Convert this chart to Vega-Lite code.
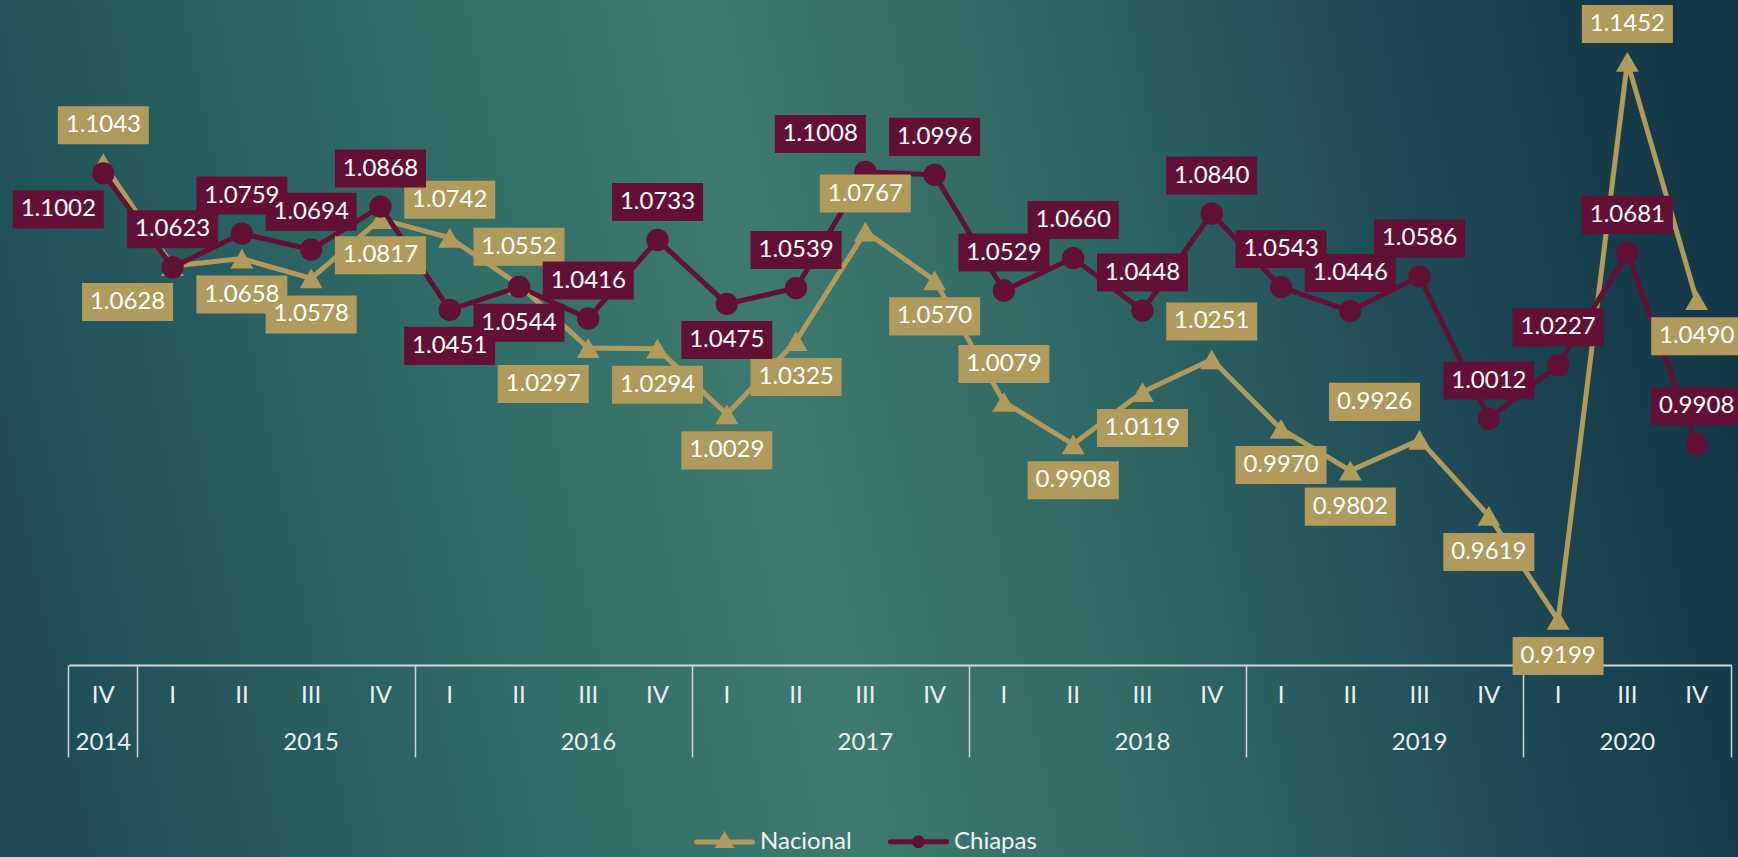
{
  "$schema": "https://vega.github.io/schema/vega-lite/v6.json",
  "width": 1738,
  "height": 857,
  "padding": 0,
  "autosize": {"type": "none"},
  "background": "#255a5e",
  "data": {
    "values": [
      {"periodo": "2014 IV", "serie": "Nacional", "valor": 1.1043, "vert": "arriba", "horiz": "centro"},
      {"periodo": "2015 I", "serie": "Nacional", "valor": 1.0628, "vert": "abajo", "horiz": "izq"},
      {"periodo": "2015 II", "serie": "Nacional", "valor": 1.0658, "vert": "abajo", "horiz": "centro"},
      {"periodo": "2015 III", "serie": "Nacional", "valor": 1.0578, "vert": "abajo", "horiz": "centro"},
      {"periodo": "2015 IV", "serie": "Nacional", "valor": 1.0817, "vert": "abajo", "horiz": "centro"},
      {"periodo": "2016 I", "serie": "Nacional", "valor": 1.0742, "vert": "arriba", "horiz": "centro"},
      {"periodo": "2016 II", "serie": "Nacional", "valor": 1.0552, "vert": "arriba", "horiz": "centro"},
      {"periodo": "2016 III", "serie": "Nacional", "valor": 1.0297, "vert": "abajo", "horiz": "izq"},
      {"periodo": "2016 IV", "serie": "Nacional", "valor": 1.0294, "vert": "abajo", "horiz": "centro"},
      {"periodo": "2017 I", "serie": "Nacional", "valor": 1.0029, "vert": "abajo", "horiz": "centro"},
      {"periodo": "2017 II", "serie": "Nacional", "valor": 1.0325, "vert": "abajo", "horiz": "centro"},
      {"periodo": "2017 III", "serie": "Nacional", "valor": 1.0767, "vert": "arriba", "horiz": "centro"},
      {"periodo": "2017 IV", "serie": "Nacional", "valor": 1.0570, "vert": "abajo", "horiz": "centro"},
      {"periodo": "2018 I", "serie": "Nacional", "valor": 1.0079, "vert": "arriba", "horiz": "centro"},
      {"periodo": "2018 II", "serie": "Nacional", "valor": 0.9908, "vert": "abajo", "horiz": "centro"},
      {"periodo": "2018 III", "serie": "Nacional", "valor": 1.0119, "vert": "abajo", "horiz": "centro"},
      {"periodo": "2018 IV", "serie": "Nacional", "valor": 1.0251, "vert": "arriba", "horiz": "centro"},
      {"periodo": "2019 I", "serie": "Nacional", "valor": 0.9970, "vert": "abajo", "horiz": "centro"},
      {"periodo": "2019 II", "serie": "Nacional", "valor": 0.9802, "vert": "abajo", "horiz": "centro"},
      {"periodo": "2019 III", "serie": "Nacional", "valor": 0.9926, "vert": "arriba", "horiz": "izq"},
      {"periodo": "2019 IV", "serie": "Nacional", "valor": 0.9619, "vert": "abajo", "horiz": "centro"},
      {"periodo": "2020 I", "serie": "Nacional", "valor": 0.9199, "vert": "abajo", "horiz": "centro"},
      {"periodo": "2020 III", "serie": "Nacional", "valor": 1.1452, "vert": "arriba", "horiz": "centro"},
      {"periodo": "2020 IV", "serie": "Nacional", "valor": 1.0490, "vert": "abajo", "horiz": "centro"},
      {"periodo": "2014 IV", "serie": "Chiapas", "valor": 1.1002, "vert": "abajo", "horiz": "izq"},
      {"periodo": "2015 I", "serie": "Chiapas", "valor": 1.0623, "vert": "arriba", "horiz": "centro"},
      {"periodo": "2015 II", "serie": "Chiapas", "valor": 1.0759, "vert": "arriba", "horiz": "centro"},
      {"periodo": "2015 III", "serie": "Chiapas", "valor": 1.0694, "vert": "arriba", "horiz": "centro"},
      {"periodo": "2015 IV", "serie": "Chiapas", "valor": 1.0868, "vert": "arriba", "horiz": "centro"},
      {"periodo": "2016 I", "serie": "Chiapas", "valor": 1.0451, "vert": "abajo", "horiz": "centro"},
      {"periodo": "2016 II", "serie": "Chiapas", "valor": 1.0544, "vert": "abajo", "horiz": "centro"},
      {"periodo": "2016 III", "serie": "Chiapas", "valor": 1.0416, "vert": "arriba", "horiz": "centro"},
      {"periodo": "2016 IV", "serie": "Chiapas", "valor": 1.0733, "vert": "arriba", "horiz": "centro"},
      {"periodo": "2017 I", "serie": "Chiapas", "valor": 1.0475, "vert": "abajo", "horiz": "centro"},
      {"periodo": "2017 II", "serie": "Chiapas", "valor": 1.0539, "vert": "arriba", "horiz": "centro"},
      {"periodo": "2017 III", "serie": "Chiapas", "valor": 1.1008, "vert": "arriba", "horiz": "izq"},
      {"periodo": "2017 IV", "serie": "Chiapas", "valor": 1.0996, "vert": "arriba", "horiz": "centro"},
      {"periodo": "2018 I", "serie": "Chiapas", "valor": 1.0529, "vert": "arriba", "horiz": "centro"},
      {"periodo": "2018 II", "serie": "Chiapas", "valor": 1.0660, "vert": "arriba", "horiz": "centro"},
      {"periodo": "2018 III", "serie": "Chiapas", "valor": 1.0448, "vert": "arriba", "horiz": "centro"},
      {"periodo": "2018 IV", "serie": "Chiapas", "valor": 1.0840, "vert": "arriba", "horiz": "centro"},
      {"periodo": "2019 I", "serie": "Chiapas", "valor": 1.0543, "vert": "arriba", "horiz": "centro"},
      {"periodo": "2019 II", "serie": "Chiapas", "valor": 1.0446, "vert": "arriba", "horiz": "centro"},
      {"periodo": "2019 III", "serie": "Chiapas", "valor": 1.0586, "vert": "arriba", "horiz": "centro"},
      {"periodo": "2019 IV", "serie": "Chiapas", "valor": 1.0012, "vert": "arriba", "horiz": "centro"},
      {"periodo": "2020 I", "serie": "Chiapas", "valor": 1.0227, "vert": "arriba", "horiz": "centro"},
      {"periodo": "2020 III", "serie": "Chiapas", "valor": 1.0681, "vert": "arriba", "horiz": "centro"},
      {"periodo": "2020 IV", "serie": "Chiapas", "valor": 0.9908, "vert": "arriba", "horiz": "centro"}
    ]
  },
  "encoding": {
    "y": {
      "field": "valor",
      "type": "quantitative",
      "scale": {"domain": [0.8242, 1.1702], "nice": false, "zero": false},
      "axis": {"orient": "left", "offset": -1731.3, "values": [0.9017], "labels": false, "ticks": true, "tickSize": 1662.6, "tickColor": "#d6d6d6", "tickWidth": 2, "domain": false, "grid": false, "title": null}
    }
  },
  "layer": [
    {
      "mark": {"type": "line", "strokeWidth": 5},
      "encoding": {
        "x": {
          "field": "periodo", "type": "ordinal",
          "scale": {"type": "band", "paddingInner": 0, "paddingOuter": 0.5442, "align": 0.9111},
          "axis": {"orient": "bottom", "offset": -192, "ticks": false, "labelExpr": "split(datum.value, ' ')[1]", "labelPadding": 30, "labelBaseline": "middle", "labelOverlap": false, "labelAngle": 0, "title": null}
        },
        "color": {
          "field": "serie", "type": "nominal",
          "scale": {"domain": ["Nacional", "Chiapas"], "range": ["#b09a5c", "#621134"]},
          "legend": {
            "orient": "none", "legendX": 694, "legendY": 811, "direction": "horizontal", "title": null,
            "symbolSize": 3136, "symbolStrokeWidth": 5, "labelFont": "Lato", "labelFontSize": 24, "labelColor": "#f2f2f2",
            "labelOffset": 5, "columnPadding": 28, "padding": 0,
            "encode": {
              "symbols": {
                "update": {
                  "shape": {"signal": "datum.value === 'Nacional' ? 'M-1,0H1M0,-0.22L0.2,0.13H-0.2Z' : 'M-1,0H1M0.14,0A0.14,0.14,0,1,1,-0.14,0A0.14,0.14,0,1,1,0.14,0Z'"},
                  "fill": {"scale": "color", "field": "value"},
                  "stroke": {"scale": "color", "field": "value"},
                  "strokeWidth": {"value": 5},
                  "strokeCap": {"value": "round"},
                  "opacity": {"value": 1}
                }
              }
            }
          }
        }
      }
    },
    {
      "transform": [{"filter": {"field": "serie", "equal": "Nacional"}}],
      "mark": {"type": "point", "shape": "triangle-up", "filled": true, "size": 520, "opacity": 1},
      "encoding": {
        "x": {
          "field": "periodo", "type": "ordinal",
          "axis": {"orient": "bottom", "offset": -192, "values": ["2014 IV", "2015 I", "2016 I", "2017 I", "2018 I", "2019 I", "2020 I"], "bandPosition": 0, "ticks": true, "tickSize": 92, "labels": false, "title": null}
        },
        "color": {"field": "serie", "type": "nominal"}
      }
    },
    {
      "transform": [{"filter": {"field": "serie", "equal": "Chiapas"}}],
      "mark": {"type": "point", "shape": "circle", "filled": true, "size": 500, "opacity": 1},
      "encoding": {
        "x": {
          "field": "periodo", "type": "ordinal",
          "axis": {"orient": "bottom", "offset": -192, "values": ["2020 IV"], "bandPosition": 1, "ticks": true, "tickSize": 92, "labels": false, "title": null}
        },
        "color": {"field": "serie", "type": "nominal"}
      }
    },
    {
      "transform": [{"filter": {"field": "vert", "equal": "arriba"}}],
      "mark": {"type": "point", "shape": "M-1,-0.418H1V0.418H-1Z", "filled": true, "size": 8281, "opacity": 1, "strokeWidth": 0, "yOffset": -38},
      "encoding": {
        "x": {
          "field": "periodo", "type": "ordinal",
          "axis": {"orient": "bottom", "offset": -192, "values": ["2014 IV", "2020 III"], "bandPosition": 0.5, "ticks": false, "labelExpr": "split(datum.value, ' ')[0]", "labelPadding": 77, "labelBaseline": "middle", "labelOverlap": false, "labelAngle": 0, "title": null}
        },
        "xOffset": {"field": "horiz", "type": "nominal", "scale": {"type": "point", "domain": ["izq", "centro"], "range": [-10.4, 34.64], "padding": 0}},
        "color": {"field": "serie", "type": "nominal"}
      }
    },
    {
      "transform": [{"filter": {"field": "vert", "equal": "abajo"}}],
      "mark": {"type": "point", "shape": "M-1,-0.418H1V0.418H-1Z", "filled": true, "size": 8281, "opacity": 1, "strokeWidth": 0, "yOffset": 36},
      "encoding": {
        "x": {"field": "periodo", "type": "ordinal", "axis": null},
        "xOffset": {"field": "horiz", "type": "nominal", "scale": {"type": "point", "domain": ["izq", "centro"], "range": [-10.4, 34.64], "padding": 0}},
        "color": {"field": "serie", "type": "nominal"}
      }
    },
    {
      "transform": [{"filter": {"field": "vert", "equal": "arriba"}}],
      "mark": {"type": "text", "font": "Lato", "fontSize": 24, "color": "#ffffff", "align": "center", "baseline": "middle", "yOffset": -38},
      "encoding": {
        "x": {
          "field": "periodo", "type": "ordinal",
          "axis": {"orient": "bottom", "offset": -192, "values": ["2015 III", "2016 III", "2017 III", "2018 III", "2019 III"], "bandPosition": 0, "ticks": false, "labelExpr": "split(datum.value, ' ')[0]", "labelPadding": 77, "labelBaseline": "middle", "labelOverlap": false, "labelAngle": 0, "title": null}
        },
        "xOffset": {"field": "horiz", "type": "nominal", "scale": {"type": "point", "domain": ["izq", "centro"], "range": [-10.4, 34.64], "padding": 0}},
        "text": {"field": "valor", "type": "quantitative", "format": ".4f"}
      }
    },
    {
      "transform": [{"filter": {"field": "vert", "equal": "abajo"}}],
      "mark": {"type": "text", "font": "Lato", "fontSize": 24, "color": "#ffffff", "align": "center", "baseline": "middle", "yOffset": 36},
      "encoding": {
        "x": {"field": "periodo", "type": "ordinal", "axis": null},
        "xOffset": {"field": "horiz", "type": "nominal", "scale": {"type": "point", "domain": ["izq", "centro"], "range": [-10.4, 34.64], "padding": 0}},
        "text": {"field": "valor", "type": "quantitative", "format": ".4f"}
      }
    }
  ],
  "resolve": {"axis": {"x": "independent"}},
  "config": {
    "font": "Lato",
    "view": {
      "stroke": null,
      "fill": {
        "gradient": "linear", "x1": 0, "y1": 0.55, "x2": 1, "y2": 0.45,
        "stops": [
          {"offset": 0, "color": "#1e4d57"},
          {"offset": 0.28, "color": "#316d68"},
          {"offset": 0.45, "color": "#3e7a6e"},
          {"offset": 0.65, "color": "#2e6664"},
          {"offset": 0.85, "color": "#1c4755"},
          {"offset": 1, "color": "#143747"}
        ]
      }
    },
    "axis": {"domain": false, "grid": false, "labelFont": "Lato", "labelFontSize": 24, "labelColor": "#eeeeee", "tickColor": "#d3d3d3", "tickWidth": 1.5}
  }
}
